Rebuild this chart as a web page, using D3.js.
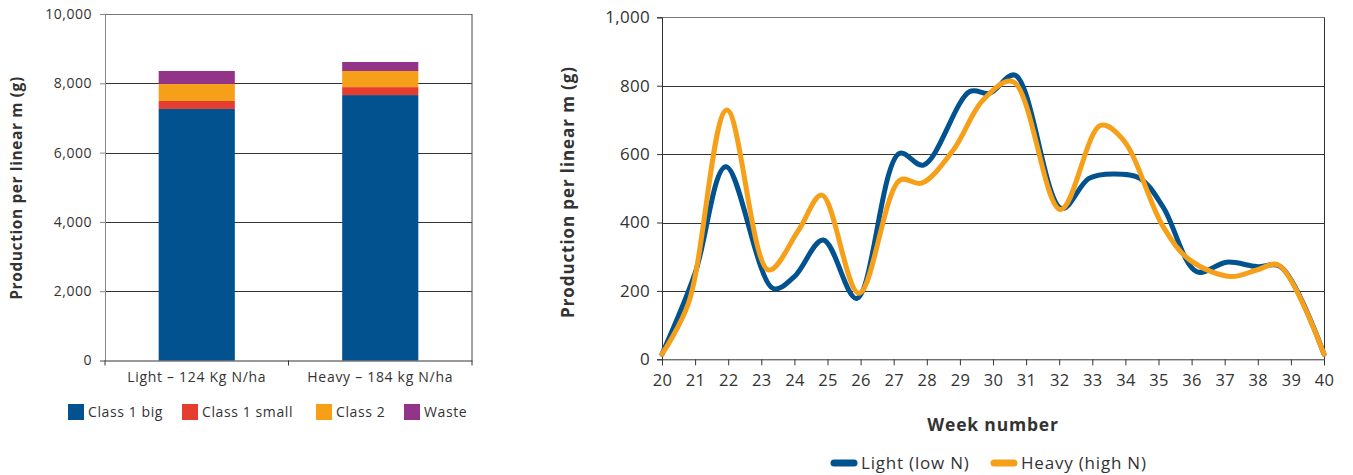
<!DOCTYPE html>
<html>
<head>
<meta charset="utf-8">
<script src="https://cdn.jsdelivr.net/npm/d3@7"></script>
<style>
  body { margin: 0; background: #fff; }
  svg text { font-family: "Open Sans", sans-serif; fill: #333; }
</style>
</head>
<body>
<div id="chart"></div>
<script>
// bar chart data (g per linear m)
const groups = ["Light – 124 Kg N/ha", "Heavy – 184 kg N/ha"];
const classKeys = ["Class 1 big", "Class 1 small", "Class 2", "Waste"];
const class1Big = [7260, 7660];
const class1Small = [230, 230];
const class2 = [490, 465];
const waste = [375, 260];
const barTicks = [0, 2000, 4000, 6000, 8000, 10000];

// line chart data: week, production
const lightWeeks = [20, 21, 21.93, 23.36, 24.0, 24.87, 25.88, 27.17, 27.9, 29.3, 29.9, 30.66, 32.07, 32.9, 33.63, 34.44, 35.14, 36.16, 37.06, 37.97, 38.68, 40];
const lightVals  = [15, 252, 563, 207, 242, 349, 178, 602, 568, 783, 778, 831, 441, 529, 542, 529, 445, 256, 284, 271, 271, 15];
const heavyWeeks = [20, 20.8, 21.96, 23.22, 24.13, 24.83, 25.95, 27.19, 27.84, 28.8, 29.7, 30.6, 32.04, 33.25, 33.94, 35.14, 35.95, 37.18, 37.97, 38.62, 40];
const heavyVals  = [15, 164, 729, 261, 378, 480, 193, 524, 515, 612, 758, 812, 438, 684, 641, 388, 290, 242, 261, 276, 15];
const weekTicks = d3.range(20, 41);
const lineTicks = [0, 200, 400, 600, 800, 1000];

const colors = { "Class 1 big": "#02528f", "Class 1 small": "#e53d30", "Class 2": "#f6a01a", "Waste": "#923589" };
const lightColor = "#02528f";
const heavyColor = "#f6a01a";

const svg = d3.select("#chart").append("svg")
    .attr("width", 1353)
    .attr("height", 475);

// ---------- left: stacked bars ----------
const xL = d3.scaleBand().domain(groups).range([105, 472]).padding(0);
const yL = d3.scaleLinear().domain([0, 10000]).range([360.5, 14]);

const rows = groups.map((g, i) => ({
    group: g,
    "Class 1 big": class1Big[i],
    "Class 1 small": class1Small[i],
    "Class 2": class2[i],
    "Waste": waste[i]
}));
const stacked = d3.stack().keys(classKeys)(rows);

// gridlines
svg.append("g").selectAll("line")
    .data(barTicks.slice(1))
    .enter().append("line")
    .attr("x1", 105).attr("x2", 472)
    .attr("y1", d => Math.round(yL(d)) + 0.5)
    .attr("y2", d => Math.round(yL(d)) + 0.5)
    .attr("stroke", d => d === 10000 ? "#777" : "#333")
    .attr("stroke-width", 1);

svg.append("line")
    .attr("x1", 472).attr("x2", 472)
    .attr("y1", yL(10000)).attr("y2", yL(0))
    .attr("stroke", "#444");

const barW = xL.bandwidth() * 0.415;
svg.append("g").selectAll("g")
    .data(stacked)
    .enter().append("g")
    .attr("fill", d => colors[d.key])
    .selectAll("rect")
    .data(d => d)
    .enter().append("rect")
    .attr("x", d => xL(d.data.group) + (xL.bandwidth() - barW) / 2)
    .attr("width", barW)
    .attr("y", d => yL(d[1]))
    .attr("height", d => yL(d[0]) - yL(d[1]));

const yAxisL = svg.append("g")
    .attr("transform", "translate(105,0)")
    .call(d3.axisLeft(yL).tickValues(barTicks).tickSize(5).tickPadding(8).tickFormat(d3.format(",")));
yAxisL.select(".domain").attr("stroke", "#888");
yAxisL.selectAll(".tick line").attr("stroke", "#888");
yAxisL.selectAll("text").attr("font-size", 14).attr("letter-spacing", 0.5).attr("fill", "#333");

const xAxisL = svg.append("g")
    .attr("transform", `translate(0,${yL(0)})`)
    .call(d3.axisBottom(xL).tickSize(0).tickPadding(12));
xAxisL.select(".domain").attr("stroke", "#333");
xAxisL.selectAll("text").attr("font-size", 14).attr("letter-spacing", 0.7).attr("fill", "#333");
// ticks at band edges
svg.append("g").selectAll("line")
    .data([xL.range()[0], xL(groups[1]), xL.range()[1]])
    .enter().append("line")
    .attr("x1", d => d).attr("x2", d => d)
    .attr("y1", yL(0)).attr("y2", yL(0) + 5)
    .attr("stroke", "#333");

svg.append("text")
    .attr("transform", "translate(22,188) rotate(-90)")
    .attr("text-anchor", "middle")
    .attr("font-size", 15.5)
    .attr("letter-spacing", 0.6)
    .attr("font-weight", "bold")
    .attr("fill", "#222")
    .text("Production per linear m (g)");

// bar legend
const legX = [68, 182, 316, 404];
const legL = svg.append("g").selectAll("g")
    .data(classKeys)
    .enter().append("g")
    .attr("transform", (d, i) => `translate(${legX[i]},404)`);
legL.append("rect").attr("width", 16).attr("height", 16).attr("fill", d => colors[d]);
legL.append("text").attr("x", 20).attr("y", 13).attr("font-size", 14).attr("letter-spacing", 0.6).text(d => d);

// ---------- right: lines ----------
const xR = d3.scaleLinear().domain([20, 40]).range([662, 1324]);
const yR = d3.scaleLinear().domain([0, 1000]).range([359.3, 17.3]);

svg.append("g").selectAll("line")
    .data(lineTicks.slice(1))
    .enter().append("line")
    .attr("x1", 662).attr("x2", 1324)
    .attr("y1", d => Math.round(yR(d)) + 0.5)
    .attr("y2", d => Math.round(yR(d)) + 0.5)
    .attr("stroke", d => d === 1000 ? "#777" : "#333");

svg.append("line")
    .attr("x1", 1324.5).attr("x2", 1324.5)
    .attr("y1", yR(1000)).attr("y2", yR(0))
    .attr("stroke", "#333");

const yAxisR = svg.append("g")
    .attr("transform", "translate(662,0)")
    .call(d3.axisLeft(yR).tickValues(lineTicks).tickSize(5).tickPadding(7).tickFormat(d3.format(",")));
yAxisR.select(".domain").attr("stroke", "#333");
yAxisR.selectAll(".tick line").attr("stroke", "#333");
yAxisR.selectAll("text").attr("font-size", 17).attr("letter-spacing", 0.3).attr("fill", "#333");

const xAxisR = svg.append("g")
    .attr("transform", `translate(0,${yR(0)})`)
    .call(d3.axisBottom(xR).tickValues(weekTicks).tickSize(6).tickPadding(9).tickFormat(d3.format("d")));
xAxisR.select(".domain").attr("stroke", "#333");
xAxisR.selectAll(".tick line").attr("stroke", "#333");
xAxisR.selectAll("text").attr("font-size", 16.5).attr("letter-spacing", 0.3).attr("fill", "#333");

const line = d3.line()
    .x(d => xR(d[0]))
    .y(d => yR(d[1]))
    .curve(d3.curveCatmullRom.alpha(0.5));

const series = [
    { name: "Light (low N)", color: lightColor, pts: d3.zip(lightWeeks, lightVals) },
    { name: "Heavy (high N)", color: heavyColor, pts: d3.zip(heavyWeeks, heavyVals) }
];

svg.append("g").selectAll("path")
    .data(series)
    .enter().append("path")
    .attr("d", d => line(d.pts))
    .attr("fill", "none")
    .attr("stroke", d => d.color)
    .attr("stroke-width", 5)
    .attr("stroke-linecap", "round")
    .attr("stroke-linejoin", "round");

svg.append("text")
    .attr("transform", "translate(574,192) rotate(-90)")
    .attr("text-anchor", "middle")
    .attr("font-size", 17)
    .attr("letter-spacing", 0.9)
    .attr("font-weight", "bold")
    .attr("fill", "#222")
    .text("Production per linear m (g)");

svg.append("text")
    .attr("x", 993).attr("y", 431)
    .attr("text-anchor", "middle")
    .attr("font-size", 17.5)
    .attr("letter-spacing", 0.8)
    .attr("font-weight", "bold")
    .attr("fill", "#222")
    .text("Week number");

// line legend
const legR = svg.append("g").selectAll("g")
    .data(series)
    .enter().append("g")
    .attr("transform", (d, i) => `translate(${[834, 994][i]},463)`);
legR.append("line")
    .attr("x1", 0).attr("x2", 20)
    .attr("stroke", d => d.color)
    .attr("stroke-width", 7)
    .attr("stroke-linecap", "round");
legR.append("text").attr("x", 27).attr("y", 6).attr("font-size", 17).attr("letter-spacing", 0.8).text(d => d.name);
</script>
</body>
</html>
